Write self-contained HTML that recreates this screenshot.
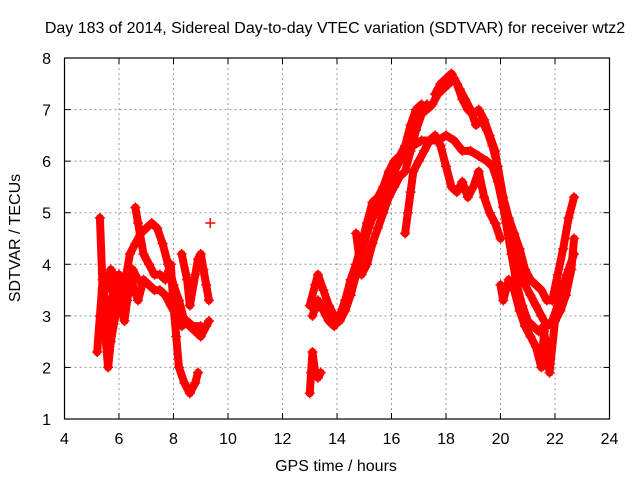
<!DOCTYPE html>
<html><head><meta charset="utf-8"><style>
html,body{margin:0;padding:0;background:#fff;}
svg text{font-family:"Liberation Sans",sans-serif;font-size:16px;fill:#000;}
</style></head><body>
<svg id="chart" width="640" height="480" viewBox="0 0 640 480">
<rect width="640" height="480" fill="#fff"/>
<text x="335" y="33" text-anchor="middle">Day 183 of 2014, Sidereal Day-to-day VTEC variation (SDTVAR) for receiver wtz2</text>
<text x="336" y="471" text-anchor="middle">GPS time / hours</text>
<text transform="translate(20,238) rotate(-90)" text-anchor="middle">SDTVAR / TECUs</text>
<g id="grid"></g>
<g id="ticks"></g>
<g id="series"></g>
<rect x="64.5" y="58" width="545" height="361" fill="none" stroke="#000" stroke-width="1.2"/>
</svg>
<script>
const xTicks=[4,6,8,10,12,14,16,18,20,22,24];
const yTicks=[1,2,3,4,5,6,7,8];
const trackA1=[[5.2,2.3],[5.3,3.0],[5.4,3.7],[5.5,3.2],[5.6,2.5],[5.7,3.0],[5.8,3.6],[6.0,3.8],[6.2,3.6],[6.4,4.2],[6.6,4.4],[6.8,4.6],[7.0,4.7],[7.2,4.8],[7.4,4.7],[7.6,4.4],[7.8,4.0],[8.0,3.6],[8.2,3.3],[8.4,2.9],[8.6,2.8],[8.8,2.7],[9.0,2.6],[9.2,2.8],[9.3,2.9]];
const trackA2=[[5.3,4.9],[5.4,3.5],[5.5,2.6],[5.6,2.0],[5.7,2.5],[5.9,3.1],[6.1,3.5],[6.3,3.8],[6.5,3.6],[6.7,3.3],[6.9,3.7],[7.1,3.6],[7.3,3.5],[7.5,3.5],[7.7,3.4],[7.9,3.2],[8.1,3.0],[8.3,2.8],[8.5,2.9],[8.7,2.8],[9.0,2.8]];
const trackA3=[[6.6,5.1],[6.7,4.8],[6.9,4.2],[7.1,4.0],[7.3,3.8],[7.5,3.8],[7.7,3.7],[7.9,4.0],[8.0,3.2],[8.1,2.6],[8.2,2.0],[8.4,1.7],[8.6,1.5],[8.8,1.7],[8.9,1.9]];
const trackA4=[[5.5,3.5],[5.7,3.9],[5.9,3.7],[6.1,3.1],[6.2,2.9],[6.3,3.3],[6.5,3.9],[6.7,3.7]];
const trackA5=[[8.3,4.2],[8.5,3.7],[8.6,3.2],[8.8,3.8],[8.9,4.1],[9.0,4.2],[9.1,3.9],[9.2,3.6],[9.3,3.3]];
const trackLone=[[9.35,4.8]];
const trackB1=[[13.0,1.5],[13.05,1.9],[13.1,2.3],[13.2,1.9],[13.3,1.8],[13.4,1.9]];
const trackB2=[[13.0,3.2],[13.2,3.6],[13.3,3.8],[13.5,3.5],[13.7,3.2],[13.9,3.0],[14.1,2.9],[14.3,3.1],[14.5,3.4],[14.7,3.8],[14.9,4.2],[15.1,4.6],[15.3,4.9],[15.5,5.1],[15.7,5.4],[15.9,5.6],[16.1,5.8],[16.3,6.0],[16.5,6.2],[16.8,6.3],[17.1,6.4],[17.4,6.4],[17.7,6.4],[18.0,6.5],[18.3,6.4],[18.6,6.2],[18.9,6.2],[19.2,6.1],[19.5,6.0],[19.7,5.9],[19.9,5.6],[20.1,5.1],[20.3,4.6],[20.5,4.2],[20.7,3.9],[20.9,3.6],[21.1,3.4],[21.3,3.2],[21.5,3.0],[21.7,2.8],[21.9,2.9],[22.1,3.2],[22.3,3.6],[22.5,3.9],[22.7,4.2]];
const trackB3=[[13.1,3.0],[13.3,3.3],[13.5,3.1],[13.7,2.9],[13.9,2.8],[14.1,3.0],[14.3,3.3],[14.5,3.7],[14.7,4.0],[14.9,4.4],[15.1,4.8],[15.3,5.2],[15.5,5.3],[15.7,5.5],[15.9,5.8],[16.1,6.0],[16.3,6.1],[16.5,6.3],[16.7,6.7],[16.9,7.0],[17.1,7.1],[17.3,7.0],[17.5,7.1],[17.7,7.3],[17.9,7.4],[18.1,7.5],[18.3,7.6],[18.5,7.4],[18.7,7.2],[18.9,7.0],[19.1,6.7],[19.3,6.8],[19.5,6.6],[19.7,6.3],[19.9,5.9],[20.1,5.3],[20.3,4.9],[20.5,4.6],[20.7,4.3],[20.9,3.9],[21.1,3.7],[21.3,3.6],[21.5,3.5],[21.7,3.3],[21.9,3.3],[22.1,3.8],[22.3,4.3],[22.5,4.9],[22.7,5.3]];
const trackB4=[[17.6,7.3],[17.8,7.5],[18.0,7.6],[18.2,7.7],[18.4,7.5],[18.6,7.2],[18.8,7.0],[19.0,6.9],[19.2,7.0],[19.4,6.8],[19.6,6.5],[19.8,6.2],[20.0,5.5],[20.2,4.8],[20.4,4.2],[20.6,3.6],[20.8,3.2],[21.0,2.9],[21.2,2.8],[21.4,2.7],[21.6,2.8]];
const trackB5=[[16.5,4.6],[16.6,5.0],[16.7,5.4],[16.8,5.8],[17.0,6.0],[17.2,6.2],[17.4,6.4],[17.6,6.5],[17.8,6.3],[18.0,5.9],[18.2,5.5],[18.4,5.4],[18.6,5.6],[18.8,5.3],[19.0,5.5],[19.2,5.8],[19.4,5.3],[19.6,5.0],[19.8,4.8],[20.0,4.5]];
const trackB6=[[14.7,4.6],[14.9,3.8],[15.1,4.0],[15.3,4.4],[15.5,4.7],[15.7,5.0],[15.9,5.3],[16.1,5.5],[16.3,5.7],[16.5,5.8],[16.7,6.2],[16.9,6.6],[17.1,6.9],[17.3,7.1]];
const trackB7=[[20.0,3.6],[20.1,3.3],[20.3,3.7],[20.5,3.5],[20.7,3.1],[20.9,2.8],[21.1,2.6],[21.3,2.4],[21.5,2.0],[21.6,2.7],[21.8,1.9],[22.0,2.9],[22.2,3.1],[22.4,3.4],[22.6,3.9],[22.7,4.5]];
const tracks=[trackA1,trackA2,trackA3,trackA4,trackA5,trackLone,trackB1,trackB2,trackB3,trackB4,trackB5,trackB6,trackB7];

const X0=64.5,X1=609.5,Y0=419,Y1=58;
function xs(v){return X0+(v-4)/20*(X1-X0);}
function ys(v){return Y0-(v-1)/7*(Y0-Y1);}
const NS='http://www.w3.org/2000/svg';
function mk(tag,attrs,parent){const e=document.createElementNS(NS,tag);for(const k in attrs)e.setAttribute(k,attrs[k]);parent.appendChild(e);return e;}
const grid=document.getElementById('grid'),ticks=document.getElementById('ticks'),series=document.getElementById('series');
xTicks.forEach(t=>{const x=xs(t);
 if(t>4&&t<24){const g=mk('line',{x1:x,x2:x,y1:Y1,y2:Y0,stroke:'#999','stroke-dasharray':'2,3','stroke-width':1},grid);
 
 }
 const l=mk('line',{x1:x,x2:x,y1:Y0,y2:Y0-6,stroke:'#000'},ticks);
 
 
 const l2=mk('line',{x1:x,x2:x,y1:Y1,y2:Y1+6,stroke:'#000'},ticks);
 
 
 const tx=mk('text',{x:x,y:444,'text-anchor':'middle'},ticks);tx.textContent=t;
 
 
});
yTicks.forEach(t=>{const y=ys(t);
 if(t>1&&t<8){const g=mk('line',{x1:X0,x2:X1,y1:y,y2:y,stroke:'#999','stroke-dasharray':'2,3','stroke-width':1},grid);
 
 }
 const l=mk('line',{x1:X0,x2:X0+6,y1:y,y2:y,stroke:'#000'},ticks);
 
 
 const l2=mk('line',{x1:X1,x2:X1-6,y1:y,y2:y,stroke:'#000'},ticks);
 
 
 const tx=mk('text',{x:51,y:y+6,'text-anchor':'end'},ticks);tx.textContent=t;
 
 
});
tracks.forEach(tr=>{
 if(tr.length>1){const p=mk('polyline',{points:tr.map(d=>xs(d[0])+','+ys(d[1])).join(' '),fill:'none',stroke:'#f00','stroke-width':8,'stroke-linejoin':'round','stroke-linecap':'round'},series);
 
 }
 tr.forEach(d=>{const x=xs(d[0]),y=ys(d[1]);
  const m=mk('path',{d:`M${x-5},${y}H${x+5}M${x},${y-5}V${y+5}`,stroke:'#f00','stroke-width':1.5},series);
  
  
 });
});
</script>
</body></html>
